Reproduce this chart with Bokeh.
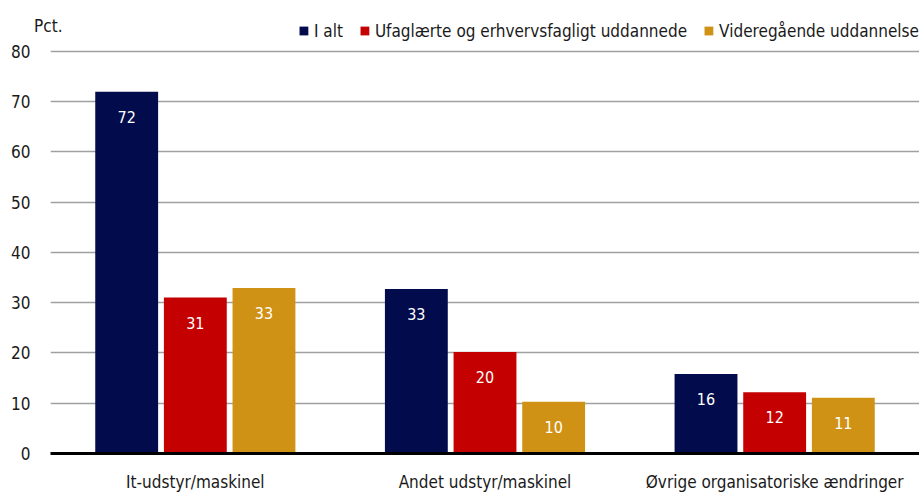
from bokeh.plotting import figure
from bokeh.models import (ColumnDataSource, FactorRange, Range1d, FixedTicker, Legend,
                          LegendItem, LabelSet, LinearAxis)
from bokeh.core.properties import value
from bokeh.transform import dodge
from bokeh.embed import file_html
from bokeh.resources import INLINE

categories = ["It-udstyr/maskinel", "Andet udstyr/maskinel", "Øvrige organisatoriske ændringer"]
series_names = ["I alt", "Ufaglærte og erhvervsfagligt uddannede", "Videregående uddannelse"]
i_alt = [71.9, 32.7, 15.8]
ufaglaerte = [31.0, 20.2, 12.2]
videregaaende = [32.9, 10.3, 11.1]
y_ticks = [0, 10, 20, 30, 40, 50, 60, 70, 80]
unit_label = "Pct."

colors = ["#020B4C", "#C40000", "#D09215"]
FONT = "DejaVu Sans Condensed"
TXT = "#1a1a1a"

# frame: top at 16px, bottom at 458px; 80 must land at 51px
TOP = 16
y_top = 80 * (458 - TOP) / (458 - 51)
p = figure(x_range=FactorRange(*categories, range_padding=0), y_range=Range1d(0, y_top),
           width=919, height=494, output_backend="svg", toolbar_location=None,
           min_border_left=50, min_border_right=0, min_border_top=TOP, min_border_bottom=36)
p.outline_line_color = None
p.background_fill_color = "white"
p.border_fill_color = "white"

src = ColumnDataSource(dict(cat=categories, a=i_alt, b=ufaglaerte, c=videregaaende,
                            la=[f"{v:.0f}" for v in i_alt],
                            lb=[f"{v:.0f}" for v in ufaglaerte],
                            lc=[f"{v:.0f}" for v in videregaaende]))

offsets = [-0.237, 0.0, 0.237]
renderers = []
for key, lab, off, col in zip(["a", "b", "c"], ["la", "lb", "lc"], offsets, colors):
    r = p.vbar(x=dodge("cat", off, range=p.x_range), top=key, width=0.217, source=src,
               fill_color=col, line_color=None)
    renderers.append(r)
    ls = LabelSet(x=dodge("cat", off, range=p.x_range), y=key, text=lab, source=src,
                  text_align="center", text_baseline="middle", y_offset=-25,
                  text_color="white", text_font=value(FONT), text_font_size="16px")
    p.add_layout(ls)

# axes
p.yaxis.ticker = FixedTicker(ticks=y_ticks)
p.yaxis.axis_line_color = None
p.yaxis.major_tick_line_color = None
p.yaxis.minor_tick_line_color = None
p.yaxis.major_label_standoff = 14
p.yaxis.major_label_text_font = FONT
p.yaxis.major_label_text_font_size = "17px"
p.yaxis.major_label_text_color = TXT

# unit label "Pct." drawn as a single tick label of a second left axis
unit_axis = LinearAxis(ticker=FixedTicker(ticks=[85]), major_label_overrides={85: unit_label},
                       axis_line_color=None, major_tick_line_color=None,
                       minor_tick_line_color=None, major_label_standoff=-60,
                       major_label_text_font=FONT, major_label_text_font_size="17px",
                       major_label_text_color=TXT)
p.add_layout(unit_axis, "left")

p.xaxis.axis_line_color = "black"
p.xaxis.axis_line_width = 3
p.xaxis.major_tick_line_color = None
p.xaxis.minor_tick_line_color = None
p.xaxis.major_label_standoff = 12
p.xaxis.major_label_text_font = FONT
p.xaxis.major_label_text_font_size = "17px"
p.xaxis.major_label_text_color = TXT

p.xgrid.grid_line_color = None
p.ygrid.ticker = FixedTicker(ticks=y_ticks)
p.ygrid.grid_line_color = "#A0A0A0"
p.ygrid.grid_line_width = 1.5

legend = Legend(items=[LegendItem(label=n, renderers=[r]) for n, r in zip(series_names, renderers)],
                orientation="horizontal", location="top_right",
                label_text_font=FONT, label_text_font_size="17px", label_text_color=TXT,
                glyph_width=11, glyph_height=11, label_standoff=5, spacing=16,
                padding=3, margin=0, border_line_color=None, background_fill_alpha=0,
                label_height=29)
p.add_layout(legend)

open("out.html", "w").write(file_html(p, INLINE))
